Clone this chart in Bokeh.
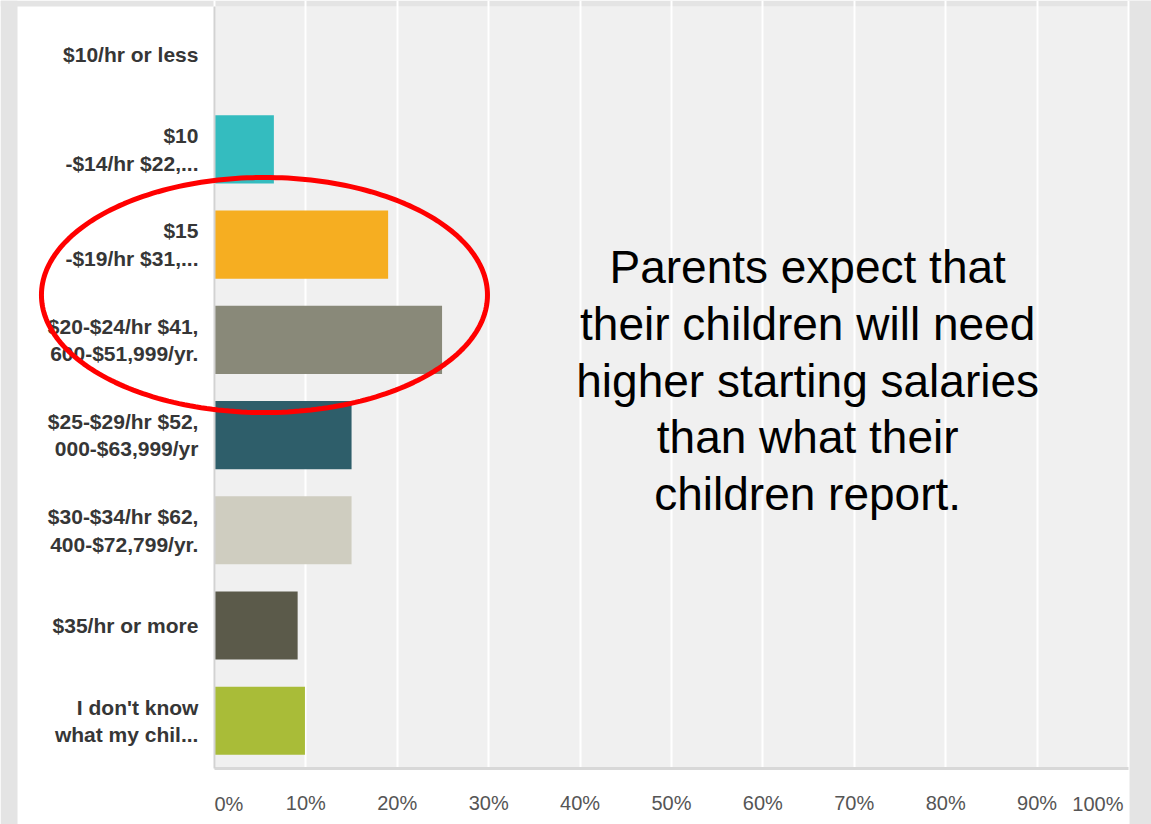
import numpy as np
from bokeh.plotting import figure
from bokeh.models import Range1d, FixedTicker, Label, PolyAnnotation, BoxAnnotation, ColumnDataSource
from bokeh.embed import file_html
from bokeh.resources import INLINE

# ---- data ----
categories = [
    "$10/hr or less",
    "$10\n-$14/hr $22,...",
    "$15\n-$19/hr $31,...",
    "$20-$24/hr $41,\n600-$51,999/yr.",
    "$25-$29/hr $52,\n000-$63,999/yr",
    "$30-$34/hr $62,\n400-$72,799/yr.",
    "$35/hr or more",
    "I don't know\nwhat my chil...",
]
percent = [0.0, 6.5, 19.0, 24.9, 15.0, 15.0, 9.1, 9.9]
bar_colors = ["#34bcbf", "#34bcbf", "#f6ae21", "#898979", "#2e5e6a", "#cfcdc0", "#5b5a4a", "#a9bc38"]
x_ticks = [0, 10, 20, 30, 40, 50, 60, 70, 80, 90, 100]
tick_labels = ["0%", "10%", "20%", "30%", "40%", "50%", "60%", "70%", "80%", "90%", "100%"]
note_text = ("Parents expect that\ntheir children will need\nhigher starting salaries\n"
             "than what their\nchildren report.")

OUTER = "#e4e4e4"
PANEL = "#f0f0f0"
n = len(categories)
rows = list(range(n))  # row index, top to bottom

# The frame is the whole card; axes are pinned inside it.
p = figure(width=1151, height=824,
           x_range=Range1d(-23.41, 102.52),
           y_range=Range1d(8.088, -0.563),
           output_backend="svg", toolbar_location=None,
           min_border_left=0, min_border_right=0, min_border_top=0, min_border_bottom=0)
p.background_fill_color = "white"
p.border_fill_color = "white"
p.outline_line_color = None

# plot panel background and outer page strips
p.add_layout(BoxAnnotation(left=0, right=100, top=-0.5, bottom=n - 0.5, fill_color=PANEL,
                           fill_alpha=1, line_color=None, level="image"))
p.add_layout(BoxAnnotation(left=-23.41, right=-21.55, top=-0.563, bottom=8.088, fill_color=OUTER,
                           fill_alpha=1, line_color=None, level="image"))
p.add_layout(BoxAnnotation(left=100, right=102.52, top=-0.563, bottom=8.088, fill_color=OUTER,
                           fill_alpha=1, line_color=None, level="image"))
p.add_layout(BoxAnnotation(left=-23.41, right=102.52, top=-0.563, bottom=-0.5, fill_color=OUTER,
                           fill_alpha=1, line_color=None, level="image"))

src = ColumnDataSource(dict(row=rows, val=percent, col=bar_colors))
p.hbar(y="row", left=0, right="val", height=0.714, fill_color="col", line_color=None, source=src)

# grid
p.xgrid.ticker = FixedTicker(ticks=x_ticks)
p.xgrid.grid_line_color = "white"
p.xgrid.grid_line_width = 2
p.ygrid.grid_line_color = None

# x axis (pinned to bottom of the bar panel)
p.xaxis.fixed_location = n - 0.5
p.xaxis.bounds = (x_ticks[0], x_ticks[-1])
p.xaxis.ticker = FixedTicker(ticks=x_ticks)
overrides = {t: lab for t, lab in zip(x_ticks, tick_labels)}
overrides[x_ticks[0]] = ""
overrides[x_ticks[-1]] = ""
p.xaxis.major_label_overrides = overrides
p.xaxis.major_tick_line_color = None
p.xaxis.minor_tick_line_color = None
p.xaxis.major_tick_out = 0
p.xaxis.major_tick_in = 0
p.xaxis.axis_line_color = "#d8d8d8"
p.xaxis.axis_line_width = 3
p.xaxis.major_label_standoff = 24
p.xaxis.major_label_text_font = "Liberation Sans"
p.xaxis.major_label_text_font_size = "20px"
p.xaxis.major_label_text_color = "#555555"

# end tick labels, kept inside the panel width as in the original
p.add_layout(Label(x=x_ticks[0], y=7.868, text=tick_labels[0], text_align="left", text_baseline="middle",
                   text_font="Liberation Sans", text_font_size="20px", text_color="#555555"))
p.add_layout(Label(x=x_ticks[-1], y=7.868, text=tick_labels[-1], text_align="right", text_baseline="middle",
                   x_offset=-5, text_font="Liberation Sans", text_font_size="20px", text_color="#555555"))

# y axis (pinned at 0%)
p.yaxis.fixed_location = 0
p.yaxis.bounds = (-0.5, n - 0.5)
p.yaxis.ticker = FixedTicker(ticks=rows)
p.yaxis.major_label_overrides = {r: c for r, c in zip(rows, categories)}
p.yaxis.major_tick_line_color = None
p.yaxis.minor_tick_line_color = None
p.yaxis.major_tick_out = 0
p.yaxis.major_tick_in = 0
p.yaxis.axis_line_color = "#d2d2d2"
p.yaxis.axis_line_width = 2
p.yaxis.major_label_standoff = 16
p.yaxis.major_label_text_font = "Liberation Sans"
p.yaxis.major_label_text_font_style = "bold"
p.yaxis.major_label_text_font_size = "21px"
p.yaxis.major_label_text_color = "#363636"
p.yaxis.major_label_text_line_height = 1.2

# red ellipse highlight
theta = np.linspace(0, 2 * np.pi, 241)
cx, cy, rx, ry = 5.47, 2.529, 24.4, 1.234
p.add_layout(PolyAnnotation(xs=list(cx + rx * np.cos(theta)), ys=list(cy + ry * np.sin(theta)),
                            xs_units="data", ys_units="data",
                            fill_color=None, fill_alpha=0, line_color="#ff0000", line_alpha=1.0,
                            line_width=5))

# note text
p.add_layout(Label(x=64.9, y=3.427, text=note_text, text_align="center", text_baseline="middle",
                   text_font="Liberation Sans", text_font_size="46px", text_color="black",
                   text_line_height=1.09))

open("out.html", "w").write(file_html(p, INLINE))
